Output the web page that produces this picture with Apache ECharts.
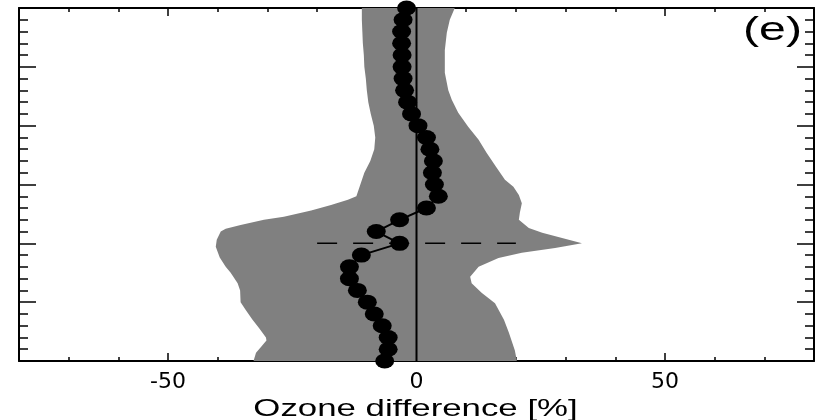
<!DOCTYPE html>
<html>
<head>
<meta charset="utf-8">
<script src="https://cdn.jsdelivr.net/npm/echarts@6/dist/echarts.min.js"></script>
<style>
  html, body { margin: 0; padding: 0; background: #fff; }
  #chart { width: 821px; height: 420px; }
</style>
</head>
<body>
<div id="chart"></div>
<script>
// Profile levels (vertical coordinate, one dot per level)
const levels = [0, 1, 2, 3, 4, 5, 6, 7, 8, 9, 10, 11, 12, 13, 14, 15,
                16, 17, 18, 19, 20, 21, 22, 23, 24, 25, 26, 27, 28, 29, 30];
// Mean ozone difference [%] at each level
const meanDiff = [-6.4, -5.7, -5.7, -6.9, -8.5, -9.9, -11.9, -13.5, -13.5, -11.1,
                  -3.4, -8.1, -3.4, 2.0, 4.4, 3.6, 3.2, 3.4, 2.7, 2.0,
                  0.3, -1.0, -1.8, -2.4, -2.7, -2.9, -2.9, -3.0, -3.0, -2.7, -2.0];

// Spread envelope: lower edge (top to bottom)
const lowEdgeY = [30, 29, 28, 27, 26, 25, 24, 23, 22, 21, 20, 19, 18, 17, 16, 15,
                  14.0, 13.7, 13.25, 12.8, 12.25, 12.0, 11.55, 11.25, 11.0, 10.3, 9.7,
                  8.8, 8.0, 7.5, 6.6, 6.0, 5.0, 4.3, 3.5, 2.8, 2.0, 1.75, 1.2, 0.7, 0];
const lowEdgeX = [-11.0, -11.0, -10.9, -10.8, -10.6, -10.5, -10.2, -10.0, -9.7, -9.2,
                  -8.6, -8.3, -8.5, -9.3, -10.5, -11.3,
                  -12.1, -13.8, -17.2, -21.2, -26.7, -30.7, -35.4, -38.4, -39.4, -40.2, -40.4,
                  -39.6, -38.4, -37.4, -36.0, -35.5, -35.4, -34.3, -33.0, -31.7, -30.3, -30.2,
                  -31.3, -32.3, -32.8];
// Spread envelope: upper edge (top to bottom)
const highEdgeY = [30, 29, 27.9, 26.4, 24.5, 23.0, 22.2, 21.1, 19.9, 18.8, 17.7, 16.5,
                   15.4, 14.8, 14.1, 13.4, 12.6, 12.0, 11.3, 10.9, 10.45, 10.0, 9.6, 9.2,
                   8.75, 8.0, 7.15, 6.6, 5.8, 4.9, 3.5, 2.4, 0.9, 0];
const highEdgeX = [7.7, 6.7, 6.1, 5.7, 5.7, 6.4, 7.1, 8.4, 10.4, 12.5, 14.1, 16.0,
                   17.8, 19.5, 20.6, 21.2, 20.8, 20.6, 22.6, 25.3, 29.3, 33.3, 27.9, 21.2,
                   16.5, 12.5, 10.8, 11.1, 13.1, 15.8, 17.6, 18.6, 19.8, 20.2];

// Reference level marker (dashed) and zero line
const refLevel = 10;
const refSpan = [-20, 20];

// Axis ranges and tick labels
const xRange = [-80, 80];
const yRange = [0, 30];
const xTickLabels = [-50, 0, 50];

const levelDots = levels.map((y, i) => [meanDiff[i], y]);

// Envelope polygon: lower edge downward, then upper edge back up
const envelope = lowEdgeX.map((x, i) => [x, lowEdgeY[i]])
  .concat(highEdgeX.map((x, i) => [x, highEdgeY[i]]).reverse());

const chart = echarts.init(document.getElementById('chart'), null, { renderer: 'canvas' });

const black = '#000000';
const axisLineStyle = { color: black, width: 2 };
const tickStyle = { color: black, width: 1.5 };

function xAxisPair(position) {
  return [
    {
      type: 'value', position, min: xRange[0], max: xRange[1], interval: 10,
      axisLine: { show: true, onZero: false, lineStyle: axisLineStyle },
      axisTick: { show: true, inside: true, length: 4, lineStyle: tickStyle },
      axisLabel: position === 'bottom'
        ? { show: true, customValues: xTickLabels, color: black, fontSize: 22,
            fontFamily: 'DejaVu Sans', margin: 10 }
        : { show: false },
      splitLine: { show: false }
    },
    {
      type: 'value', position, min: xRange[0], max: xRange[1],
      axisLine: { show: false, onZero: false },
      axisTick: { show: true, inside: true, length: 8, customValues: xTickLabels, lineStyle: tickStyle },
      axisLabel: { show: false },
      splitLine: { show: false }
    }
  ];
}

function yAxisSide(position) {
  return {
    type: 'value', position, min: yRange[0], max: yRange[1], interval: 5,
    axisLine: { show: true, onZero: false, lineStyle: axisLineStyle },
    axisTick: { show: true, inside: true, length: 17, lineStyle: tickStyle },
    minorTick: { show: true, splitNumber: 5, length: 9, lineStyle: tickStyle },
    axisLabel: { show: false },
    splitLine: { show: false },
    minorSplitLine: { show: false }
  };
}

chart.setOption({
  animation: false,
  backgroundColor: '#ffffff',
  grid: { left: 19, right: 7, top: 8, bottom: 59, containLabel: false },
  xAxis: xAxisPair('bottom').concat(xAxisPair('top')),
  yAxis: [yAxisSide('left'), yAxisSide('right')],
  graphic: [
    {
      type: 'text', x: 415.5, y: 409, scaleX: 1.45, z: 10,
      style: {
        text: 'Ozone difference [%]', fill: black,
        font: '24px "Liberation Sans", Arial, sans-serif',
        textAlign: 'center', textVerticalAlign: 'middle'
      }
    },
    {
      type: 'text', x: 772.5, y: 31, scaleX: 1.42, z: 10,
      style: {
        text: '(e)', fill: black,
        font: '34px "Liberation Sans", Arial, sans-serif',
        textAlign: 'center', textVerticalAlign: 'middle'
      }
    }
  ],
  series: [
    {
      type: 'custom',
      name: 'spread',
      xAxisIndex: 0, yAxisIndex: 0,
      data: [envelope[0]],
      z: 1,
      renderItem: function (params, api) {
        const pts = envelope.map(p => api.coord(p));
        return {
          type: 'polygon',
          shape: { points: pts },
          style: { fill: '#808080', stroke: null }
        };
      }
    },
    {
      type: 'line', name: 'zero',
      xAxisIndex: 0, yAxisIndex: 0,
      data: [[0, yRange[0]], [0, yRange[1]]],
      symbol: 'none', z: 2,
      lineStyle: { color: black, width: 2 }
    },
    {
      type: 'line', name: 'reference level',
      xAxisIndex: 0, yAxisIndex: 0,
      data: [[refSpan[0], refLevel], [refSpan[1], refLevel]],
      symbol: 'none', z: 3,
      lineStyle: { color: black, width: 1.5, type: [20, 16] }
    },
    {
      type: 'line', name: 'mean',
      xAxisIndex: 0, yAxisIndex: 0,
      data: levelDots,
      symbol: 'circle', symbolSize: [19, 15], z: 4,
      itemStyle: { color: black, borderWidth: 0 },
      lineStyle: { color: black, width: 2 }
    }
  ]
});
</script>
</body>
</html>
